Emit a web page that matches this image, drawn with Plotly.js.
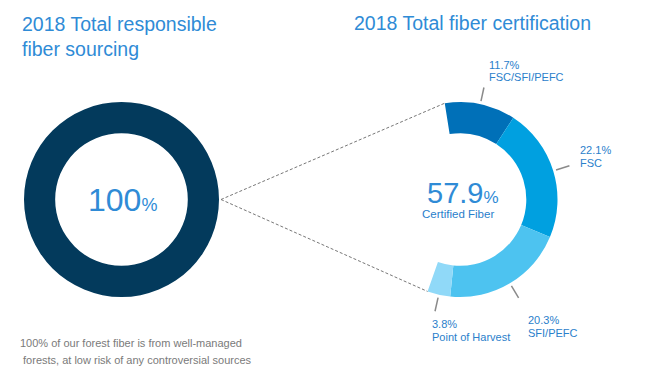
<!DOCTYPE html>
<html><head><meta charset="utf-8">
<script src="https://cdn.plot.ly/plotly-3.0.1.min.js"></script>
<style>html,body{margin:0;padding:0;background:#fff}</style>
</head><body><div id="chart" style="width:650px;height:390px"></div>
<script>
// ---- data ----
const categories = ["FSC/SFI/PEFC", "FSC", "SFI/PEFC", "Point of Harvest"];
const shares = [11.7, 22.1, 20.3, 3.8];
const certifiedTotal = 57.9;
const responsibleTotal = 100;
const shareLabels = ["11.7%", "22.1%", "20.3%", "3.8%"];
const leftTitle = "2018 Total responsible<br>fiber sourcing";
const rightTitle = "2018 Total fiber certification";
const centerLeftLabel = "100";
const centerRightLabel = "57.9";
const centerRightCaption = "Certified Fiber";
const footnote = ["100% of our forest fiber is from well-managed", " forests, at low risk of any controversial sources"];

// ---- styling / geometry ----
const W = 650, H = 390;
const R = 97.5;
const cL = [121.5, 199.5], cR = [460, 199.5];
const rotation = -9;
const colors = ["#0070B8", "#00A0E0", "#4DC3F0", "#90D9F8"];
const blue = "#2F8BD6";
const labelBlue = "#2A80CB";
const FONT = "Liberation Sans, Arial, sans-serif";
const labelPos = [[487, 65], [578, 150], [526, 320], [430, 324]];

const px = x => x / W;
const py = y => 1 - y / H;
function domainFor(c) {
  return {x: [px(c[0] - R), px(c[0] + R)], y: [py(c[1] + R), py(c[1] - R)]};
}
function polar(c, r, deg) {
  const a = deg * Math.PI / 180;
  return [c[0] + r * Math.sin(a), c[1] - r * Math.cos(a)];
}

const traces = [
  {
    type: "pie", values: [responsibleTotal], labels: ["Responsible"],
    domain: domainFor(cL), hole: 0.68, sort: false,
    marker: {colors: ["#033A5C"], line: {width: 0}},
    textinfo: "none", hoverinfo: "skip", showlegend: false
  },
  {
    type: "pie", values: shares.concat([responsibleTotal - certifiedTotal]),
    labels: categories.concat(["Other"]),
    domain: domainFor(cR), hole: 0.68, sort: false, direction: "clockwise",
    rotation: rotation,
    marker: {colors: colors.concat(["rgba(0,0,0,0)"]), line: {width: 0}},
    textinfo: "none", hoverinfo: "skip", showlegend: false
  }
];

const shapes = [];
const annotations = [];

// dashed connector lines
const startAng = rotation;
const endAng = rotation + 360 * certifiedTotal / responsibleTotal;
const leftPt = [cL[0] + R + 2, cL[1]];
[startAng, endAng].forEach(a => {
  const p = polar(cR, R, a);
  shapes.push({type: "line", xref: "paper", yref: "paper",
    x0: px(leftPt[0]), y0: py(leftPt[1]), x1: px(p[0]), y1: py(p[1]),
    line: {color: "#777", width: 1, dash: "3px,2px"}});
});

// leader lines
let acc = rotation;
shares.forEach((v, i) => {
  const span = 360 * v / responsibleTotal;
  const mid = acc + span / 2;
  acc += span;
  const p0 = polar(cR, R + 3, mid), p1 = polar(cR, R + 17, mid);
  shapes.push({type: "line", xref: "paper", yref: "paper",
    x0: px(p0[0]), y0: py(p0[1]), x1: px(p1[0]), y1: py(p1[1]),
    line: {color: "#8a8a8a", width: 1.5}});
  const lp = labelPos[i];
  annotations.push({xref: "paper", yref: "paper", x: px(lp[0]), y: py(lp[1]),
    xanchor: "left", yanchor: "middle", showarrow: false, text: shareLabels[i],
    font: {family: FONT, size: 11, color: labelBlue}});
  annotations.push({xref: "paper", yref: "paper", x: px(lp[0]), y: py(lp[1] + 12.5),
    xanchor: "left", yanchor: "middle", showarrow: false, text: categories[i],
    font: {family: FONT, size: 11, color: labelBlue}});
});

// titles
annotations.push({xref: "paper", yref: "paper", x: px(20), y: py(36), xanchor: "left", yanchor: "middle",
  showarrow: false, align: "left", text: leftTitle, font: {family: FONT, size: 19.5, color: blue}});
annotations.push({xref: "paper", yref: "paper", x: px(352), y: py(23), xanchor: "left", yanchor: "middle",
  showarrow: false, align: "left", text: rightTitle, font: {family: FONT, size: 19.5, color: blue}});

// centre labels
annotations.push({xref: "paper", yref: "paper", x: px(cL[0] + 1), y: py(200), xanchor: "center", yanchor: "middle",
  showarrow: false, text: centerLeftLabel + '<span style="font-size:18px">%</span>',
  font: {family: FONT, size: 32, color: blue}});
annotations.push({xref: "paper", yref: "paper", x: px(463), y: py(193), xanchor: "center", yanchor: "middle",
  showarrow: false, text: centerRightLabel + '<span style="font-size:17px">%</span>',
  font: {family: FONT, size: 29, color: blue}});
annotations.push({xref: "paper", yref: "paper", x: px(458), y: py(214), xanchor: "center", yanchor: "middle",
  showarrow: false, text: centerRightCaption, font: {family: FONT, size: 11.5, color: labelBlue}});

// footnote
footnote.forEach((t, i) => {
  annotations.push({xref: "paper", yref: "paper", x: px(18), y: py(343 + i * 17), xanchor: "left", yanchor: "middle",
    showarrow: false, text: t, font: {family: FONT, size: 11, color: "#7a7a7a"}});
});

const layout = {
  width: W, height: H, margin: {l: 0, r: 0, t: 0, b: 0},
  paper_bgcolor: "#fff", plot_bgcolor: "#fff",
  showlegend: false, shapes: shapes, annotations: annotations,
  font: {family: FONT}
};
Plotly.newPlot("chart", traces, layout, {displayModeBar: false, staticPlot: true});
</script></body></html>
